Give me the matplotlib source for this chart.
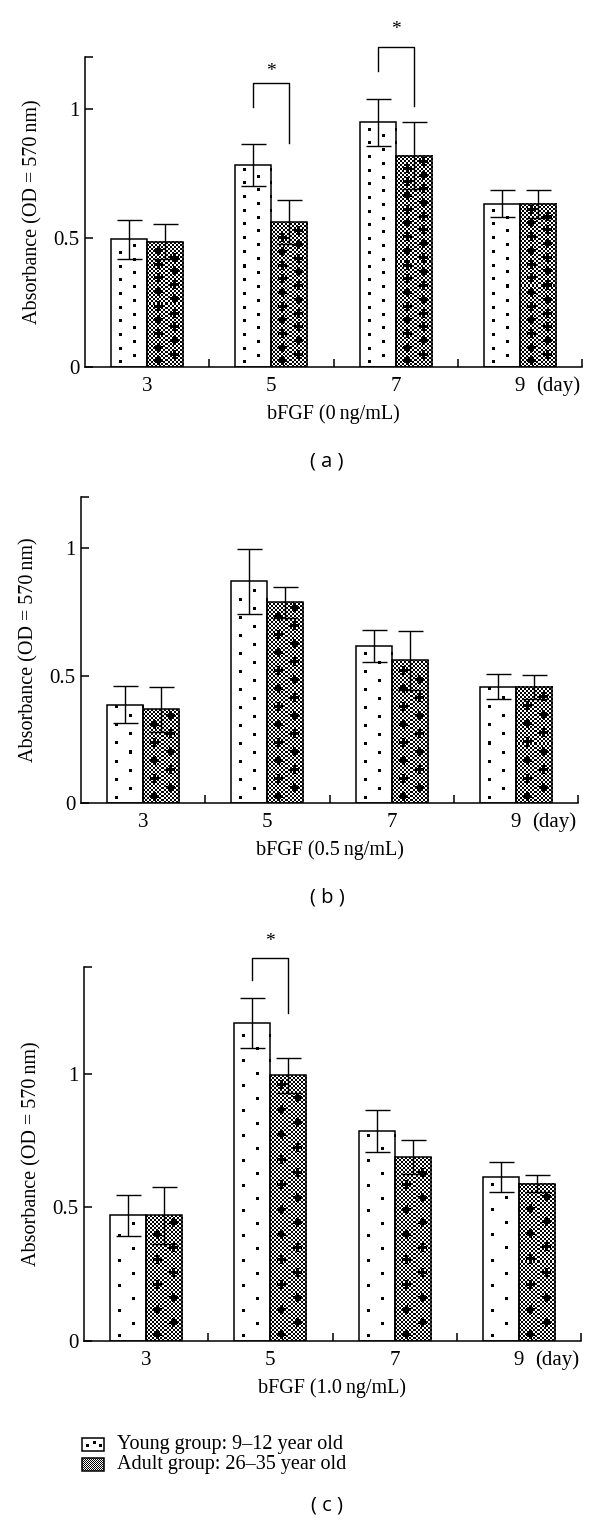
import numpy as np
import matplotlib
matplotlib.use('Agg')
import matplotlib.pyplot as plt
from matplotlib.patches import Rectangle

W, H = 600, 1537

days = ['3', '5', '7', '9']

# panel (a) bFGF 0 ng/mL
young_a = [0.495, 0.782, 0.947, 0.632]
young_a_err = [0.075, 0.082, 0.090, 0.052]
adult_a = [0.485, 0.560, 0.818, 0.632]
adult_a_err = [0.068, 0.085, 0.130, 0.054]

# panel (b) bFGF 0.5 ng/mL
young_b = [0.385, 0.870, 0.615, 0.456]
young_b_err = [0.072, 0.127, 0.063, 0.050]
adult_b = [0.368, 0.787, 0.559, 0.456]
adult_b_err = [0.088, 0.062, 0.116, 0.047]

# panel (c) bFGF 1.0 ng/mL
young_c = [0.470, 1.190, 0.786, 0.615]
young_c_err = [0.077, 0.094, 0.078, 0.056]
adult_c = [0.470, 0.994, 0.688, 0.589]
adult_c_err = [0.108, 0.065, 0.063, 0.033]

# significance brackets: (group, left leg bottom, top, right leg bottom, star y)
sig_a = [(1, 1.005, 1.10, 0.868, 1.143), (2, 1.147, 1.24, 1.009, 1.306)]
sig_b = []
sig_c = [(1, 1.351, 1.432, 1.229, 1.495)]

SERIF = 'Liberation Serif'
SANS = 'Open Sans'


def young_tex(h, w, period, cols):
    arr = np.ones((max(h, 1), max(w, 1)))
    for k, c in enumerate(cols):
        y = 4 + (period / 2 if k % 2 else 0)
        while y < h - 2:
            yi = int(y)
            arr[yi:yi + 3, c:c + 3] = 0
            y += period
    return arr


def adult_tex(h, w, period, cols, cell=2):
    h, w = max(h, 1), max(w, 1)
    ii, jj = np.mgrid[0:h, 0:w]
    arr = ((ii // cell + jj // cell) % 2).astype(float)
    for k, c in enumerate(cols):
        y = 6 + (period / 2 if k % 2 else 0)
        while y < h - 4:
            yi = int(y)
            arr[yi - 1:yi + 2, max(c - 4, 0):c + 5] = 0
            arr[max(yi - 4, 0):yi + 5, c - 1:c + 2] = 0
            y += period
    return arr


def put_tex(ax, arr, x0, x1, y0, y1):
    ax.imshow(arr, extent=(x0, x1, y0, y1), origin='lower', cmap='gray',
              vmin=0, vmax=1, interpolation='nearest', aspect='auto', zorder=2)


panels = [
    dict(left=85, top=57, bottom=367, ytop=1.2, young=young_a, yerr=young_a_err,
         adult=adult_a, aerr=adult_a_err, xlabel='bFGF (0\u2009ng/mL)', tag='( a )',
         tag_y=462, period=13.7, sig=sig_a),
    dict(left=81, top=497, bottom=803, ytop=1.2, young=young_b, yerr=young_b_err,
         adult=adult_b, aerr=adult_b_err, xlabel='bFGF (0.5\u2009ng/mL)', tag='( b )',
         tag_y=897, period=18, sig=sig_b),
    dict(left=84, top=967, bottom=1341, ytop=1.4, young=young_c, yerr=young_c_err,
         adult=adult_c, aerr=adult_c_err, xlabel='bFGF (1.0\u2009ng/mL)', tag='( c )',
         tag_y=1505, period=25, sig=sig_c),
]

fig = plt.figure(figsize=(W / 100, H / 100), dpi=100)
bw = 0.29
x = np.arange(len(days))

for p in panels:
    ax_w = 497
    ax_h = p['bottom'] - p['top']
    ax = fig.add_axes([p['left'] / W, 1 - p['bottom'] / H, ax_w / W, ax_h / H])
    px_x = ax_w / 4.0
    px_y = ax_h / p['ytop']

    yb = ax.bar(x - bw / 2, p['young'], bw, facecolor='none', edgecolor='black',
                linewidth=1.1, zorder=3)
    ab = ax.bar(x + bw / 2, p['adult'], bw, facecolor='none', edgecolor='black',
                linewidth=1.1, zorder=3)
    for b in yb:
        arr = young_tex(int(round(b.get_height() * px_y)), int(round(b.get_width() * px_x)),
                        p['period'], [8, 21, 34])
        put_tex(ax, arr, b.get_x(), b.get_x() + b.get_width(), 0, b.get_height())
    for b in ab:
        arr = adult_tex(int(round(b.get_height() * px_y)), int(round(b.get_width() * px_x)),
                        p['period'], [11, 26])
        put_tex(ax, arr, b.get_x(), b.get_x() + b.get_width(), 0, b.get_height())

    ax.errorbar(x - bw / 2, p['young'], yerr=p['yerr'], fmt='none', ecolor='black',
                elinewidth=1, capsize=9, capthick=1, zorder=4)
    ax.errorbar(x + bw / 2, p['adult'], yerr=p['aerr'], fmt='none', ecolor='black',
                elinewidth=1, capsize=9, capthick=1, zorder=4)

    for g, lb, top, rb, sy in p['sig']:
        ax.plot([g - bw / 2, g - bw / 2, g + bw / 2, g + bw / 2], [lb, top, top, rb],
                color='black', lw=1, clip_on=False)
        ax.text(g, sy, '*', ha='center', va='center', fontsize=14, family=SERIF)

    ax.set_xlim(-0.5, 3.5)
    ax.set_ylim(0, p['ytop'])
    for s in ['top', 'right']:
        ax.spines[s].set_visible(False)
    for s in ['left', 'bottom']:
        ax.spines[s].set_linewidth(1.1)

    ax.set_yticks([0, 0.5, 1, p['ytop']])
    ax.set_yticklabels(['0', '0.5', '1', ''], family=SERIF, fontsize=15)
    ax.tick_params(axis='y', direction='in', length=6, width=1.1, pad=4)
    ax.set_xticks(x)
    ax.set_xticklabels(days, family=SERIF, fontsize=15)
    ax.tick_params(axis='x', which='major', length=0, pad=7)
    ax.set_xticks([0.5, 1.5, 2.5, 3.5], minor=True)
    ax.tick_params(axis='x', which='minor', direction='in', length=6, width=1.1)

    ax.annotate('(day)', xy=(3.31, 0), xycoords=('data', 'axes fraction'),
                xytext=(0, -7), textcoords='offset points', ha='center', va='top',
                family=SERIF, fontsize=15, annotation_clip=False)

    ax.set_xlabel(p['xlabel'], family=SERIF, fontsize=14.5, labelpad=6)
    ax.set_ylabel('Absorbance (OD = 570\u2009nm)', family=SERIF, fontsize=14.5, labelpad=8)

    fig.text(327 / W, 1 - p['tag_y'] / H, p['tag'], ha='center', va='center',
             family=SANS, fontsize=14.5)

# legend drawn by hand so the patches carry the same textures
lax = fig.add_axes([80 / W, 1 - 1476 / H, 360 / W, 44 / H])
labels = ['Young group: 9\u201312 year old', 'Adult group: 26\u201335 year old']
rows = [(25, young_tex(13, 22, 7, [4, 11, 17])), (5.5, adult_tex(13, 22, 30, [], cell=1))]
for (y0, arr), lab in zip(rows, labels):
    put_tex(lax, arr, 2, 24, y0, y0 + 13)
    lax.add_patch(Rectangle((2, y0), 22, 13, fill=False, edgecolor='black', lw=1.1, zorder=3))
    lax.text(37, y0 + 6.5, lab, ha='left', va='center', family=SERIF, fontsize=14.5)
lax.set_xlim(0, 360)
lax.set_ylim(0, 44)
lax.axis('off')

fig.savefig('out.png', dpi=100)
